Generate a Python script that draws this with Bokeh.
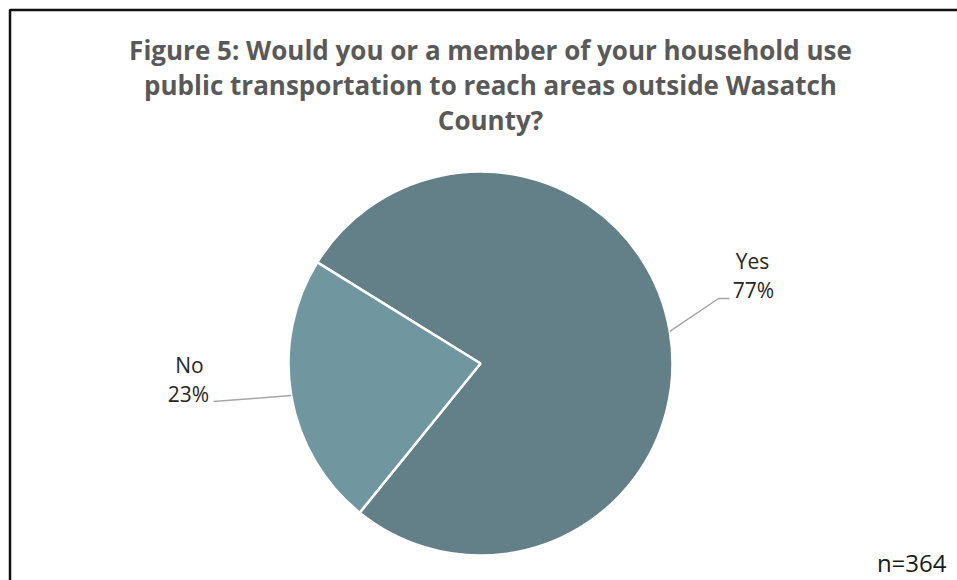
import math
from bokeh.plotting import figure
from bokeh.models import Range1d, ColumnDataSource
from bokeh.core.properties import value
from bokeh.embed import file_html
from bokeh.resources import INLINE

# ---- data ----
categories = ["Yes", "No"]
percents = [77, 23]
slice_colors = ["#637F87", "#7097A0"]
title_lines = [
    "Figure 5: Would you or a member of your household use",
    "public transportation to reach areas outside Wasatch",
    "County?",
]
sample_note = "n=364"

W, H = 957, 580

def Y(py):
    return H - py

def TB(baseline_px, size):
    # compensate for svg baseline placement
    return Y(baseline_px - 0.42 * size)

p = figure(width=W, height=H, output_backend="svg", toolbar_location=None,
           x_range=Range1d(0, W), y_range=Range1d(0, H),
           x_axis_location=None, y_axis_location=None, min_border=0,
           outline_line_color=None, background_fill_color="white",
           border_fill_color="white")
p.grid.visible = False

# frame border (left and top visible)
p.line(x=[9.5, 9.5, W], y=[0, Y(9.5), Y(9.5)], line_color="#111111", line_width=2.5)

# title
TS = 26
for i, t in enumerate(title_lines):
    p.text(x=[490], y=[TB(60 + 35 * i, TS)], text=[t], text_font=value("Open Sans"),
           text_font_style="bold", text_font_size=f"{TS}px", text_color="#595959",
           text_align="center", text_baseline="alphabetic")

# pie
cx, cy, r = 480, Y(363), 192
start_deg = 231.0
total = sum(percents)
starts, ends, mids = [], [], []
a = start_deg
for v in percents:
    span = v / total * 360.0
    starts.append(math.radians(a))
    ends.append(math.radians(a + span))
    mids.append(math.radians(a + span / 2))
    a += span
src = ColumnDataSource(dict(cat=categories, start=starts, end=ends, color=slice_colors))
p.wedge(x=cx, y=cy, radius=r, start_angle="start", end_angle="end",
        direction="anticlock", fill_color="color", line_color="white",
        line_width=2.5, source=src)

# leader lines + labels
lab_font = value("Open Sans")
lab_color = "#262626"
LS = 21
# Yes
m = mids[0]
ex, ey = cx + r * math.cos(m), cy + r * math.sin(m)
p.line(x=[ex, 718, 729], y=[ey, Y(298), Y(298)], line_color="#A6A6A6", line_width=1.5)
p.text(x=[752], y=[TB(269, LS)], text=[categories[0]], text_font=lab_font, text_font_size=f"{LS}px",
       text_color=lab_color, text_align="center", text_baseline="alphabetic")
p.text(x=[753], y=[TB(298, LS)], text=[f"{percents[0]}%"], text_font=lab_font, text_font_size=f"{LS}px",
       text_color=lab_color, text_align="center", text_baseline="alphabetic")
# No
m = mids[1]
ex, ey = cx + r * math.cos(m), cy + r * math.sin(m)
p.line(x=[213, ex], y=[Y(401), ey], line_color="#A6A6A6", line_width=1.5)
p.text(x=[189], y=[TB(373, LS)], text=[categories[1]], text_font=lab_font, text_font_size=f"{LS}px",
       text_color=lab_color, text_align="center", text_baseline="alphabetic")
p.text(x=[188], y=[TB(402, LS)], text=[f"{percents[1]}%"], text_font=lab_font, text_font_size=f"{LS}px",
       text_color=lab_color, text_align="center", text_baseline="alphabetic")

# sample size
NS = 24
p.text(x=[946], y=[TB(572, NS)], text=[sample_note], text_font=lab_font, text_font_size=f"{NS}px",
       text_color="#1a1a1a", text_align="right", text_baseline="alphabetic")

open("out.html", "w").write(file_html(p, INLINE))
